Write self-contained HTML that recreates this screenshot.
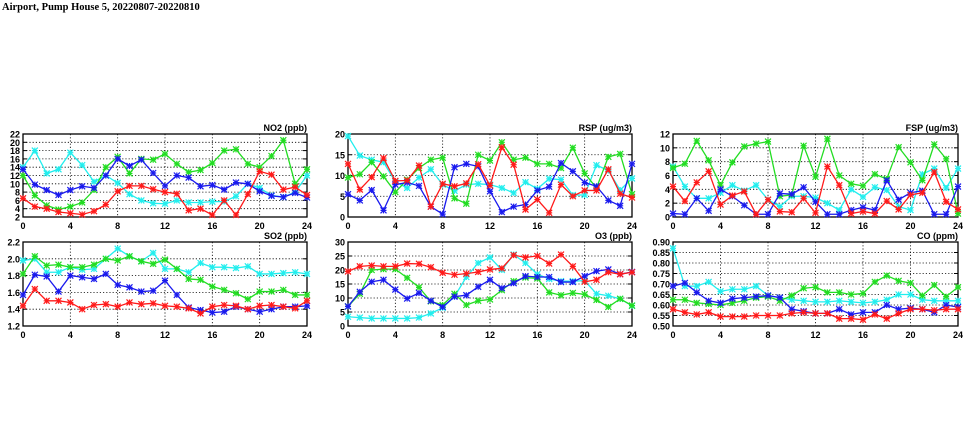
<!DOCTYPE html>
<html><head><meta charset="utf-8"><style>
body{margin:0;background:#fff;width:975px;height:447px;overflow:hidden}
svg{display:block}
text{font-family:"Liberation Sans",sans-serif;font-weight:bold;fill:#000}
</style></head><body>
<svg id="s" width="975" height="447" xmlns="http://www.w3.org/2000/svg">
<text x="2" y="10" font-size="10.5" style="font-family:'Liberation Serif',serif">Airport, Pump House 5, 20220807-20220810</text>
</svg>
<script>
const S=document.getElementById('s');const NS='http://www.w3.org/2000/svg';
function el(t,a,txt){const e=document.createElementNS(NS,t);for(const k in a)e.setAttribute(k,a[k]);if(txt!==undefined)e.textContent=txt;S.appendChild(e);return e;}
const cols=['#22eeee','#22dd22','#1a1aee','#ff1a1a'];
const P=[
{x0:23,x1:307,y0:134,y1:217,t:'NO2 (ppb)',min:2,max:22,step:2,dec:0,d:[
[14,18,12.5,13.5,17.5,14.5,10.5,12,10.2,7.5,6,5.3,5.2,6,5.5,5.5,5.7,5.7,7,10,9,7.2,6.8,8,12],
[12,7.2,4.8,3.8,4.5,5.5,8.5,14,16.5,12.5,16,15.8,17.2,14.8,12.8,13.3,15,18,18.3,14.8,14,16.7,20.5,10,13.5],
[13.5,9.8,8.5,7.3,8.5,9.4,9,12,16,14.3,15.8,12.6,9.5,12,11.5,9.4,9.7,8.6,10.3,10,8.2,7.1,6.8,7.8,6.7],
[6.5,4.5,4,3.2,2.9,2.6,3.4,5,8.2,9.5,9.5,8.7,8,7.6,3.6,4,2.5,6,2.5,7.5,13,12.2,8.6,9.2,7.3]]},
{x0:23,x1:307,y0:242,y1:326,t:'SO2 (ppb)',min:1.2,max:2.2,step:0.2,dec:1,d:[
[1.98,2.0,1.84,1.84,1.9,1.87,1.88,2.0,2.12,2.03,1.97,2.07,1.88,1.88,1.84,1.95,1.9,1.9,1.89,1.91,1.82,1.82,1.83,1.84,1.82],
[1.82,2.03,1.92,1.93,1.9,1.9,1.93,2.0,1.98,2.03,1.97,1.94,1.99,1.88,1.76,1.75,1.67,1.63,1.59,1.52,1.61,1.61,1.63,1.57,1.57],
[1.57,1.81,1.79,1.61,1.8,1.78,1.76,1.82,1.69,1.66,1.61,1.62,1.74,1.57,1.42,1.39,1.36,1.37,1.43,1.4,1.37,1.4,1.43,1.43,1.44],
[1.44,1.64,1.5,1.5,1.48,1.4,1.45,1.46,1.43,1.48,1.46,1.47,1.44,1.43,1.41,1.35,1.43,1.45,1.44,1.4,1.44,1.45,1.43,1.41,1.5]]},
{x0:348,x1:632,y0:134,y1:217,t:'RSP (ug/m3)',min:0,max:20,step:5,dec:0,d:[
[19.5,14.8,13.8,13.2,8.5,7,9.5,11.5,7.8,6.3,7.8,8,7.8,7,5.8,8.4,6.8,9.2,9,5.3,5.3,12.5,11.2,6.5,9.3],
[9.5,10.3,13.2,9.8,6,9,11.8,13.8,14.3,4.5,3.2,15,13.6,18,13.8,14.3,12.8,12.8,11.8,16.7,10.5,7,14.5,15.2,5.5],
[5.5,4,6.5,1.6,7.8,8.3,7.5,2.5,0.7,12,12.8,12.2,6.2,1.2,2.5,3,6.4,7.3,13,11,8.3,7.4,4,2.7,12.8],
[12.8,6.6,9.6,14.2,8.7,8.8,12.4,2.5,8,7.4,8.1,12.7,7.6,16.8,12.6,1.8,4.2,1,7.8,5,6.4,6.4,11.5,5.6,4.7]]},
{x0:348,x1:632,y0:242,y1:326,t:'O3 (ppb)',min:0,max:30,step:5,dec:0,d:[
[3.3,3,2.7,2.7,2.7,2.7,3,4.5,6.5,10.5,17.5,22.5,24.5,20,25.5,22.5,18.5,16.8,16,16,16.2,11.5,10.8,9.7,7.2],
[7,11.5,20,20.3,20.3,17.2,13.8,8.8,7.5,11.5,7.5,9,9.5,12.8,16,17.3,17,12,11,11.8,11.3,9.3,6.8,9.7,7.3],
[7,12.2,15.8,16.5,13,9.8,11.8,9,6.8,10.5,11,14,16.5,13.5,15.3,17.8,17.5,17.5,15.7,15.7,17.8,19.6,20.2,18.5,19.3],
[19.5,21.3,21.6,21.3,21.3,22.3,22.2,21,19,18.3,18.7,19.3,20.2,20.6,25.3,24.5,25,22.3,25.5,21.3,15.8,16.5,19.2,18.5,19.2]]},
{x0:673,x1:958,y0:134,y1:217,t:'FSP (ug/m3)',min:0,max:12,step:2,dec:0,d:[
[7.3,4.4,2.7,2.7,3.5,4.6,3.8,4.6,2.5,1.5,3,3,2.8,2,1,4,2.9,4.3,3.9,1.5,1,6.2,7,4.2,7],
[7.1,7.7,11,8.2,4.6,7.9,10.2,10.6,10.9,3,3.2,10.3,5.8,11.3,6,4.8,4.5,6.2,5.5,10.1,7.9,5.3,10.5,8.4,0.5],
[0.5,0.4,2.7,0.9,4,3,1.7,0.4,0.4,3.4,3.3,4.3,2.2,0.4,0.4,1,1.4,1,5.3,2.5,3.5,3.8,0.4,0.4,4.4],
[4.4,2.3,5,6.6,1.8,3.1,3.7,0.4,2.5,0.8,0.7,2.7,0.6,7.3,4.6,0.5,0.8,0.5,2.3,1.1,3.2,3.5,6.5,2.2,1.1]]},
{x0:673,x1:958,y0:242,y1:326,t:'CO (ppm)',min:0.5,max:0.9,step:0.05,dec:2,d:[
[0.87,0.69,0.69,0.71,0.665,0.675,0.675,0.69,0.645,0.635,0.625,0.62,0.615,0.615,0.62,0.615,0.61,0.615,0.625,0.65,0.65,0.625,0.62,0.62,0.62],
[0.625,0.625,0.61,0.605,0.6,0.61,0.62,0.635,0.64,0.62,0.645,0.68,0.685,0.66,0.66,0.65,0.655,0.71,0.74,0.715,0.705,0.645,0.695,0.64,0.685],
[0.69,0.705,0.66,0.62,0.61,0.63,0.635,0.64,0.645,0.635,0.58,0.57,0.56,0.56,0.58,0.555,0.565,0.565,0.6,0.58,0.585,0.58,0.565,0.6,0.59],
[0.58,0.565,0.555,0.565,0.545,0.545,0.545,0.55,0.55,0.55,0.56,0.565,0.56,0.56,0.535,0.535,0.53,0.555,0.535,0.56,0.58,0.58,0.575,0.58,0.58]]}
];
for(const p of P){
 const X=h=>p.x0+(p.x1-p.x0)*h/24, Y=v=>p.y1-(p.y1-p.y0)*(v-p.min)/(p.max-p.min);
 const n=Math.round((p.max-p.min)/p.step);
 for(let i=0;i<=n;i++){const v=p.min+i*p.step,y=Y(v);
  if(i>0&&i<n)el('line',{x1:p.x0,x2:p.x1,y1:y,y2:y,stroke:'#000','stroke-width':0.8,'stroke-dasharray':'1.2,2'});
  el('line',{x1:p.x0,x2:p.x0+4,y1:y,y2:y,stroke:'#000'});el('line',{x1:p.x1,x2:p.x1-4,y1:y,y2:y,stroke:'#000'});
  el('text',{x:p.x0-3,y:y+3.5,'font-size':9,'text-anchor':'end'},v.toFixed(p.dec));}
 for(let h=0;h<=24;h+=4){const x=X(h);
  if(h>0&&h<24)el('line',{x1:x,x2:x,y1:p.y0,y2:p.y1,stroke:'#000','stroke-width':0.8,'stroke-dasharray':'1.2,2'});
  el('text',{x:x,y:p.y1+12,'font-size':9,'text-anchor':'middle'},h);}
 el('rect',{x:p.x0,y:p.y0,width:p.x1-p.x0,height:p.y1-p.y0,fill:'none',stroke:'#000','stroke-width':1.3});
 el('text',{x:p.x1,y:p.y0-3,'font-size':9,'text-anchor':'end'},p.t);
 p.d.forEach((s,k)=>{const c=cols[k];
  el('polyline',{points:s.map((v,h)=>X(h)+','+Y(v)).join(' '),fill:'none',stroke:c,'stroke-width':1.3});
  s.forEach((v,h)=>{const x=X(h),y=Y(v),r=3;
   el('path',{d:`M${x-r},${y-r}L${x+r},${y+r}M${x-r},${y+r}L${x+r},${y-r}M${x-r},${y}L${x+r},${y}M${x},${y-r}L${x},${y+r}`,stroke:c,'stroke-width':1.2});});
 });
}
</script>
</body></html>
